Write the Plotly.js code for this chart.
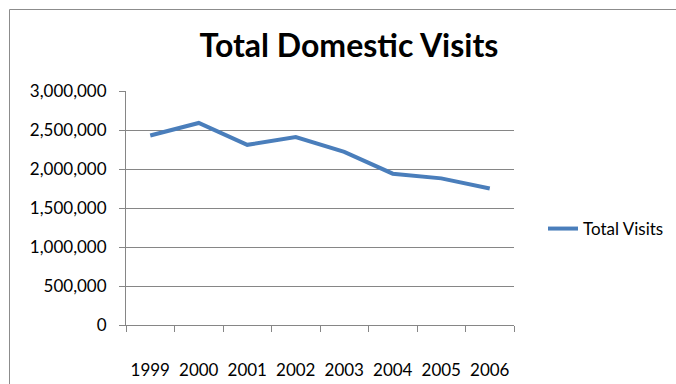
<!DOCTYPE html>
<html>
<head>
<meta charset="utf-8">
<script src="https://cdn.plot.ly/plotly-3.0.1.min.js"></script>
<style>
html,body{margin:0;padding:0;background:#fff;}
#chart{width:676px;height:384px;}
</style>
</head>
<body>
<div id="chart"></div>
<script>
const years = ["1999","2000","2001","2002","2003","2004","2005","2006"];
const totalVisits = [2430000, 2590000, 2310000, 2410000, 2220000, 1940000, 1880000, 1750000];
const seriesName = "Total Visits";
const chartTitle = "Total Domestic Visits";
const yTickVals = [0, 500000, 1000000, 1500000, 2000000, 2500000, 3000000];
const yTickText = ["0", "500,000", "1,000,000", "1,500,000", "2,000,000", "2,500,000", "3,000,000"];

const W = 676, H = 384;
const L = 126, R = 162, T = 91, B = 59;
const pw = W - L - R, ph = H - T - B;
const px2x = p => (p - L) / pw;
const py2y = p => (H - B - p) / ph;

const font = {family: "Lato, 'Open Sans', sans-serif", size: 17, color: "#000"};
const grey = "#868686";

const data = [{
  x: years,
  y: totalVisits,
  name: seriesName,
  type: "scatter",
  mode: "lines",
  line: {color: "#4A7EBB", width: 4}
}];

const layout = {
  width: W, height: H,
  margin: {l: L, r: R, t: T, b: B, pad: 0, autoexpand: false},
  paper_bgcolor: "#fff",
  plot_bgcolor: "#fff",
  font: font,
  title: {
    text: "<b>" + chartTitle + "</b>",
    font: {family: "Lato, sans-serif", size: 32, color: "#000"},
    x: px2x(349), xref: "paper", xanchor: "center",
    y: 1 - 46 / H, yref: "container", yanchor: "middle"
  },
  showlegend: true,
  legend: {
    xref: "container", yref: "container",
    x: 543 / W, xanchor: "left",
    y: 1 - 229 / H, yanchor: "middle",
    font: font,
    bgcolor: "rgba(0,0,0,0)",
    borderwidth: 0
  },
  xaxis: {
    type: "category",
    range: [-0.5, 7.5],
    showgrid: false,
    showline: true, linecolor: grey, linewidth: 1,
    ticks: "outside", ticklen: 6, tickcolor: grey, tickwidth: 1,
    tickson: "boundaries",
    tickangle: 0,
    ticklabelstandoff: 30,
    tickfont: font,
    automargin: false,
    fixedrange: true
  },
  yaxis: {
    range: [0, 3000000],
    tickvals: yTickVals,
    ticktext: yTickText,
    showgrid: true, gridcolor: grey, gridwidth: 1,
    showline: true, linecolor: grey, linewidth: 1,
    ticks: "outside", ticklen: 6, tickcolor: grey, tickwidth: 1,
    ticklabelstandoff: 9,
    zeroline: false,
    tickfont: font,
    automargin: false,
    fixedrange: true
  },
  shapes: [{
    type: "rect", xref: "paper", yref: "paper",
    x0: px2x(9.5), x1: px2x(700), y0: py2y(400), y1: py2y(9.5),
    line: {color: "#8c8c8c", width: 1},
    fillcolor: "rgba(0,0,0,0)",
    layer: "below"
  }]
};

Plotly.newPlot("chart", data, layout, {displayModeBar: false, staticPlot: true});
</script>
</body>
</html>
